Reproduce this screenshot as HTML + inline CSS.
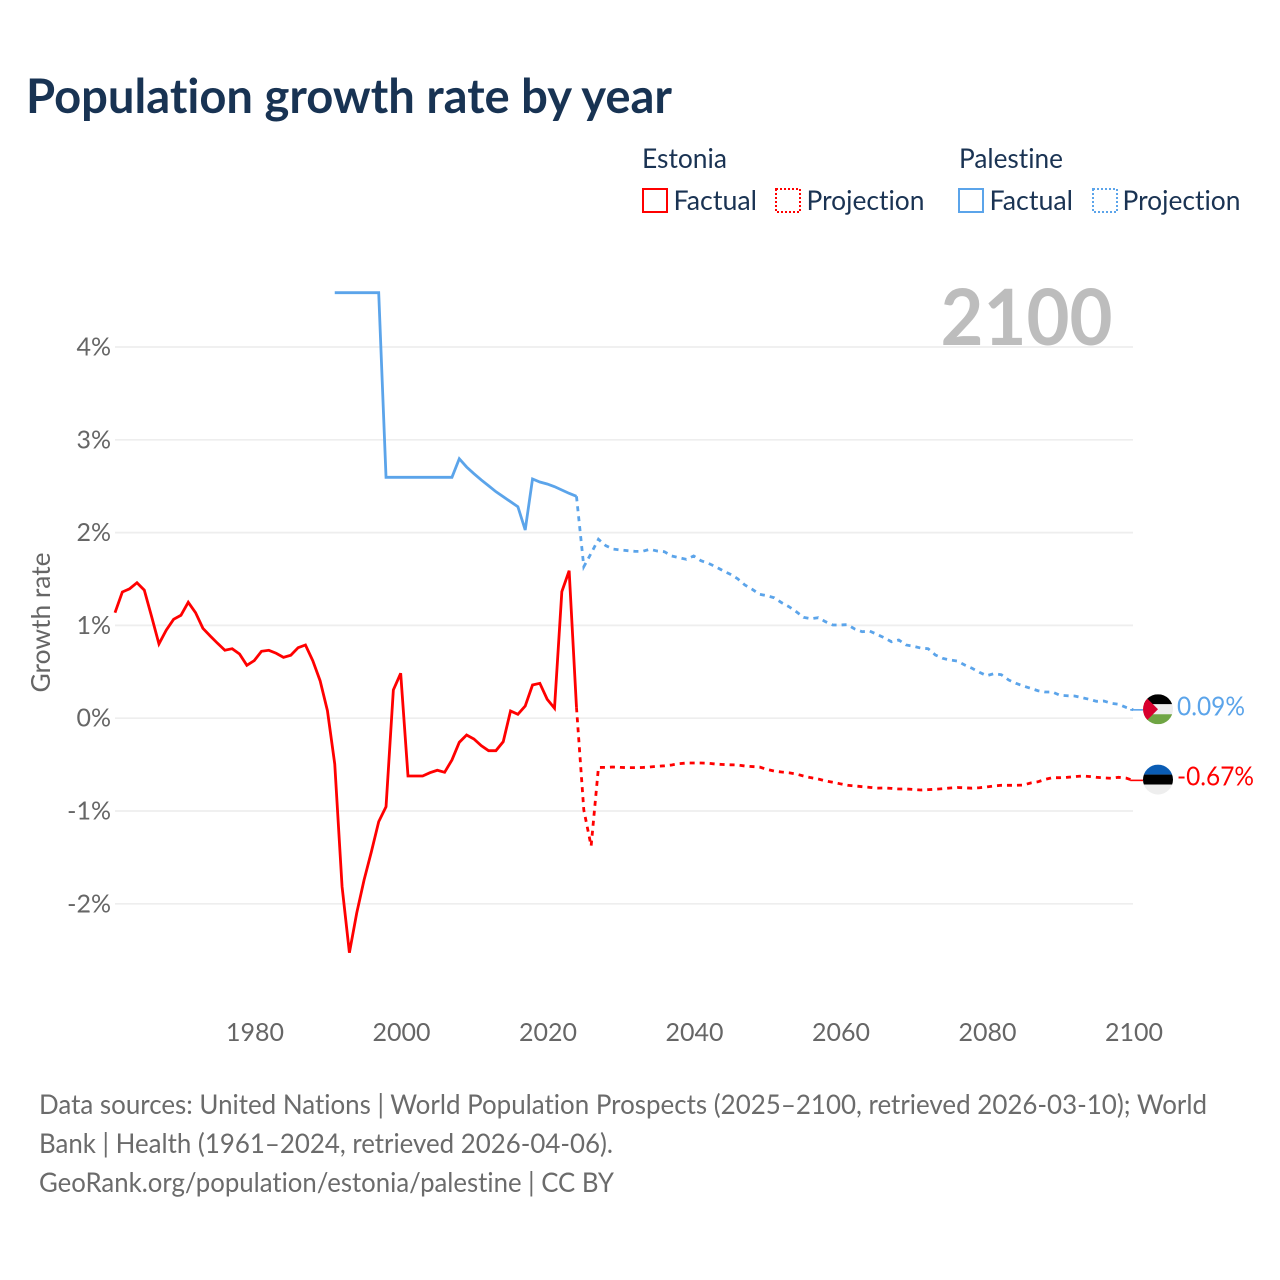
<!DOCTYPE html>
<html lang="en">
<head>
<meta charset="utf-8">
<title>Population growth rate by year</title>
<style>
html,body{margin:0;padding:0;background:#fff;}
svg{display:block;}
text{font-family:"Lato","Carlito","Liberation Sans",sans-serif;font-variant-ligatures:none;font-feature-settings:"liga" 0,"clig" 0;}
</style>
</head>
<body>
<svg id="chart" xmlns="http://www.w3.org/2000/svg" width="1280" height="1280" viewBox="0 0 1280 1280">
  <rect x="0" y="0" width="1280" height="1280" fill="#ffffff"/>
  <text x="26" y="113" font-size="48" font-weight="700" fill="#183353" textLength="646" lengthAdjust="spacingAndGlyphs">Population growth rate by year</text>

  <g font-size="27" fill="#1a3353">
    <text x="642" y="168" textLength="85" lengthAdjust="spacingAndGlyphs">Estonia</text>
    <text x="959" y="168" textLength="104" lengthAdjust="spacingAndGlyphs">Palestine</text>
    <g>
      <rect x="643" y="189" width="24" height="23" fill="none" stroke="#ff0000" stroke-width="2"/>
      <text x="673.5" y="210" textLength="83.5" lengthAdjust="spacingAndGlyphs">Factual</text>
    </g>
    <g>
      <rect x="776" y="189" width="24" height="23" fill="none" stroke="#ff0000" stroke-width="2" stroke-dasharray="2 2"/>
      <text x="806.5" y="210" textLength="118" lengthAdjust="spacingAndGlyphs">Projection</text>
    </g>
    <g>
      <rect x="959" y="189" width="24" height="23" fill="none" stroke="#5ba4ea" stroke-width="2"/>
      <text x="989.5" y="210" textLength="83.5" lengthAdjust="spacingAndGlyphs">Factual</text>
    </g>
    <g>
      <rect x="1093" y="189" width="24" height="23" fill="none" stroke="#5ba4ea" stroke-width="2" stroke-dasharray="2 2"/>
      <text x="1122.5" y="210" textLength="118" lengthAdjust="spacingAndGlyphs">Projection</text>
    </g>
  </g>

  <g id="grid"></g>
  <text x="940.5" y="345" font-size="78" font-weight="700" fill="#bdbdbd" textLength="172" lengthAdjust="spacingAndGlyphs">2100</text>
  <g id="yticks"></g>
  <g id="xticks"></g>
  <text x="0" y="0" transform="translate(50 622.5) rotate(-90)" text-anchor="middle" font-size="26" fill="#666666" textLength="140" lengthAdjust="spacingAndGlyphs">Growth rate</text>
  <g id="series"></g>

  <defs>
    <clipPath id="flag-clip-ps"><circle cx="0" cy="0" r="15"/></clipPath>
    <clipPath id="flag-clip-ee"><circle cx="0" cy="0" r="15"/></clipPath>
  </defs>
  <g id="flag-palestine" clip-path="url(#flag-clip-ps)">
    <rect x="-15" y="-15" width="30" height="10" fill="#000000"/>
    <rect x="-15" y="-5" width="30" height="10" fill="#eeeeee"/>
    <rect x="-15" y="5" width="30" height="10" fill="#6fa544"/>
    <polygon points="-15,-15 0,0 -15,15" fill="#d8002e"/>
  </g>
  <g id="flag-estonia" clip-path="url(#flag-clip-ee)">
    <rect x="-15" y="-15" width="30" height="10" fill="#0a5cb4"/>
    <rect x="-15" y="-5" width="30" height="10" fill="#000000"/>
    <rect x="-15" y="5" width="30" height="10" fill="#eeeeee"/>
  </g>
  <text id="value-palestine" x="1177" y="715" font-size="26" fill="#5ba4ea" textLength="68" lengthAdjust="spacingAndGlyphs">0.09%</text>
  <text id="value-estonia" x="1177" y="785" font-size="26" fill="#ff0000" textLength="77" lengthAdjust="spacingAndGlyphs">-0.67%</text>

  <g font-size="27" fill="#6b6b6b">
    <text x="39" y="1114" textLength="1168" lengthAdjust="spacingAndGlyphs">Data sources: United Nations | World Population Prospects (2025–2100, retrieved 2026-03-10); World</text>
    <text x="39" y="1153" textLength="574" lengthAdjust="spacingAndGlyphs">Bank | Health (1961–2024, retrieved 2026-04-06).</text>
    <text x="39" y="1192" textLength="575" lengthAdjust="spacingAndGlyphs">GeoRank.org/population/estonia/palestine | CC BY</text>
  </g>
</svg>
<script>
const yTickValues = [4, 3, 2, 1, 0, -1, -2];
const xTickYears = [1980, 2000, 2020, 2040, 2060, 2080, 2100];

const estoniaFactualStart = 1961;
const estoniaFactual = [1.137,1.36,1.395,1.46,1.38,1.094,0.8,0.95,1.066,1.109,1.249,1.137,0.969,0.886,0.807,0.732,0.749,0.692,0.57,0.62,0.721,0.732,0.7,0.656,0.678,0.76,0.789,0.62,0.404,0.081,-0.494,-1.816,-2.527,-2.099,-1.744,-1.439,-1.115,-0.954,0.304,0.484,-0.623,-0.623,-0.623,-0.587,-0.561,-0.583,-0.45,-0.26,-0.181,-0.224,-0.296,-0.35,-0.35,-0.253,0.078,0.042,0.131,0.358,0.376,0.204,0.107,1.363,1.589,0.117];

const estoniaProjectionStart = 2024;
const estoniaProjection = [0.117,-0.989,-1.377,-0.531,-0.53,-0.526,-0.53,-0.533,-0.533,-0.531,-0.526,-0.518,-0.513,-0.504,-0.49,-0.483,-0.483,-0.483,-0.485,-0.494,-0.499,-0.502,-0.504,-0.515,-0.521,-0.526,-0.552,-0.57,-0.58,-0.588,-0.602,-0.623,-0.641,-0.655,-0.676,-0.69,-0.707,-0.723,-0.73,-0.738,-0.745,-0.754,-0.752,-0.756,-0.763,-0.763,-0.768,-0.774,-0.77,-0.766,-0.76,-0.752,-0.747,-0.75,-0.754,-0.749,-0.741,-0.73,-0.723,-0.723,-0.723,-0.721,-0.698,-0.685,-0.659,-0.641,-0.641,-0.637,-0.63,-0.623,-0.628,-0.637,-0.643,-0.647,-0.637,-0.645,-0.67];

const palestineFactualStart = 1991;
const palestineFactual = [4.585,4.585,4.585,4.585,4.585,4.585,4.585,2.596,2.596,2.596,2.596,2.596,2.596,2.596,2.596,2.596,2.596,2.796,2.707,2.635,2.567,2.505,2.441,2.387,2.333,2.279,2.028,2.578,2.545,2.524,2.495,2.459,2.423,2.391];

const palestineProjectionStart = 2024;
const palestineProjection = [2.391,1.633,1.777,1.928,1.859,1.823,1.813,1.805,1.798,1.798,1.82,1.802,1.794,1.748,1.73,1.712,1.748,1.697,1.669,1.633,1.589,1.551,1.503,1.435,1.389,1.335,1.32,1.298,1.245,1.202,1.148,1.087,1.072,1.083,1.04,1.004,1.004,1.008,0.961,0.932,0.94,0.904,0.867,0.824,0.843,0.789,0.775,0.756,0.749,0.681,0.645,0.627,0.616,0.573,0.538,0.495,0.458,0.48,0.469,0.412,0.376,0.347,0.322,0.296,0.282,0.282,0.247,0.242,0.239,0.221,0.204,0.182,0.185,0.161,0.15,0.117,0.09];

const NS = 'http://www.w3.org/2000/svg';
function xScale(year) { return 115 + (year - 1961) * 7.325; }
function yScale(value) { return 718.2 - value * 92.8; }

const gridGroup = document.getElementById('grid');
const yTickGroup = document.getElementById('yticks');
const xTickGroup = document.getElementById('xticks');
const seriesGroup = document.getElementById('series');

yTickValues.forEach(function (v) {
  const line = document.createElementNS(NS, 'line');
  
  
  line.setAttribute('x1', xScale(1961));
  line.setAttribute('x2', 1133);
  line.setAttribute('y1', yScale(v));
  line.setAttribute('y2', yScale(v));
  line.setAttribute('stroke', '#eeeeee');
  line.setAttribute('stroke-width', '1.7');
  gridGroup.appendChild(line);

  const label = document.createElementNS(NS, 'text');
  
  
  label.setAttribute('x', 111);
  label.setAttribute('y', yScale(v) + 8.5);
  label.setAttribute('text-anchor', 'end');
  label.setAttribute('font-size', '25');
  label.setAttribute('fill', '#666666');
  label.textContent = v + '%';
  yTickGroup.appendChild(label);
});

xTickYears.forEach(function (year) {
  const label = document.createElementNS(NS, 'text');
  
  
  label.setAttribute('x', xScale(year) + 0.8);
  label.setAttribute('y', 1041);
  label.setAttribute('text-anchor', 'middle');
  label.setAttribute('font-size', '25');
  label.setAttribute('fill', '#666666');
  label.textContent = String(year);
  xTickGroup.appendChild(label);
});

function pointsFor(start, values) {
  return values.map(function (v, i) {
    return xScale(start + i).toFixed(2) + ',' + yScale(v).toFixed(2);
  }).join(' ');
}

function addLine(name, start, values, color, dashed) {
  const line = document.createElementNS(NS, 'polyline');
  
  
  line.setAttribute('points', pointsFor(start, values));
  line.setAttribute('fill', 'none');
  line.setAttribute('stroke', color);
  line.setAttribute('stroke-width', '2.8');
  line.setAttribute('stroke-linejoin', 'miter');
  if (dashed) line.setAttribute('stroke-dasharray', '5 5');
  seriesGroup.appendChild(line);
}

addLine('palestine-factual-line', palestineFactualStart, palestineFactual, '#5ba4ea', false);
addLine('palestine-projection-line', palestineProjectionStart, palestineProjection, '#5ba4ea', true);
addLine('estonia-factual-line', estoniaFactualStart, estoniaFactual, '#ff0000', false);
addLine('estonia-projection-line', estoniaProjectionStart, estoniaProjection, '#ff0000', true);

function addLeader(name, value, color) {
  const leader = document.createElementNS(NS, 'line');
  
  
  leader.setAttribute('x1', xScale(2100) - 3);
  leader.setAttribute('x2', 1143);
  leader.setAttribute('y1', yScale(value));
  leader.setAttribute('y2', yScale(value));
  leader.setAttribute('stroke', color);
  leader.setAttribute('stroke-width', '1.6');
  seriesGroup.appendChild(leader);
}

const palestineLast = palestineProjection[palestineProjection.length - 1];
const estoniaLast = estoniaProjection[estoniaProjection.length - 1];
addLeader('palestine-leader-line', palestineLast, '#5ba4ea');
addLeader('estonia-leader-line', estoniaLast, '#ff0000');

document.getElementById('flag-palestine').setAttribute('transform', 'translate(1158 ' + (yScale(palestineLast) - 0.6) + ')');
document.getElementById('flag-estonia').setAttribute('transform', 'translate(1158 ' + (yScale(estoniaLast) - 0.8) + ')');
document.getElementById('value-palestine').setAttribute('y', yScale(palestineLast) + 5.5);
document.getElementById('value-estonia').setAttribute('y', yScale(estoniaLast) + 5);
</script>
</body>
</html>
